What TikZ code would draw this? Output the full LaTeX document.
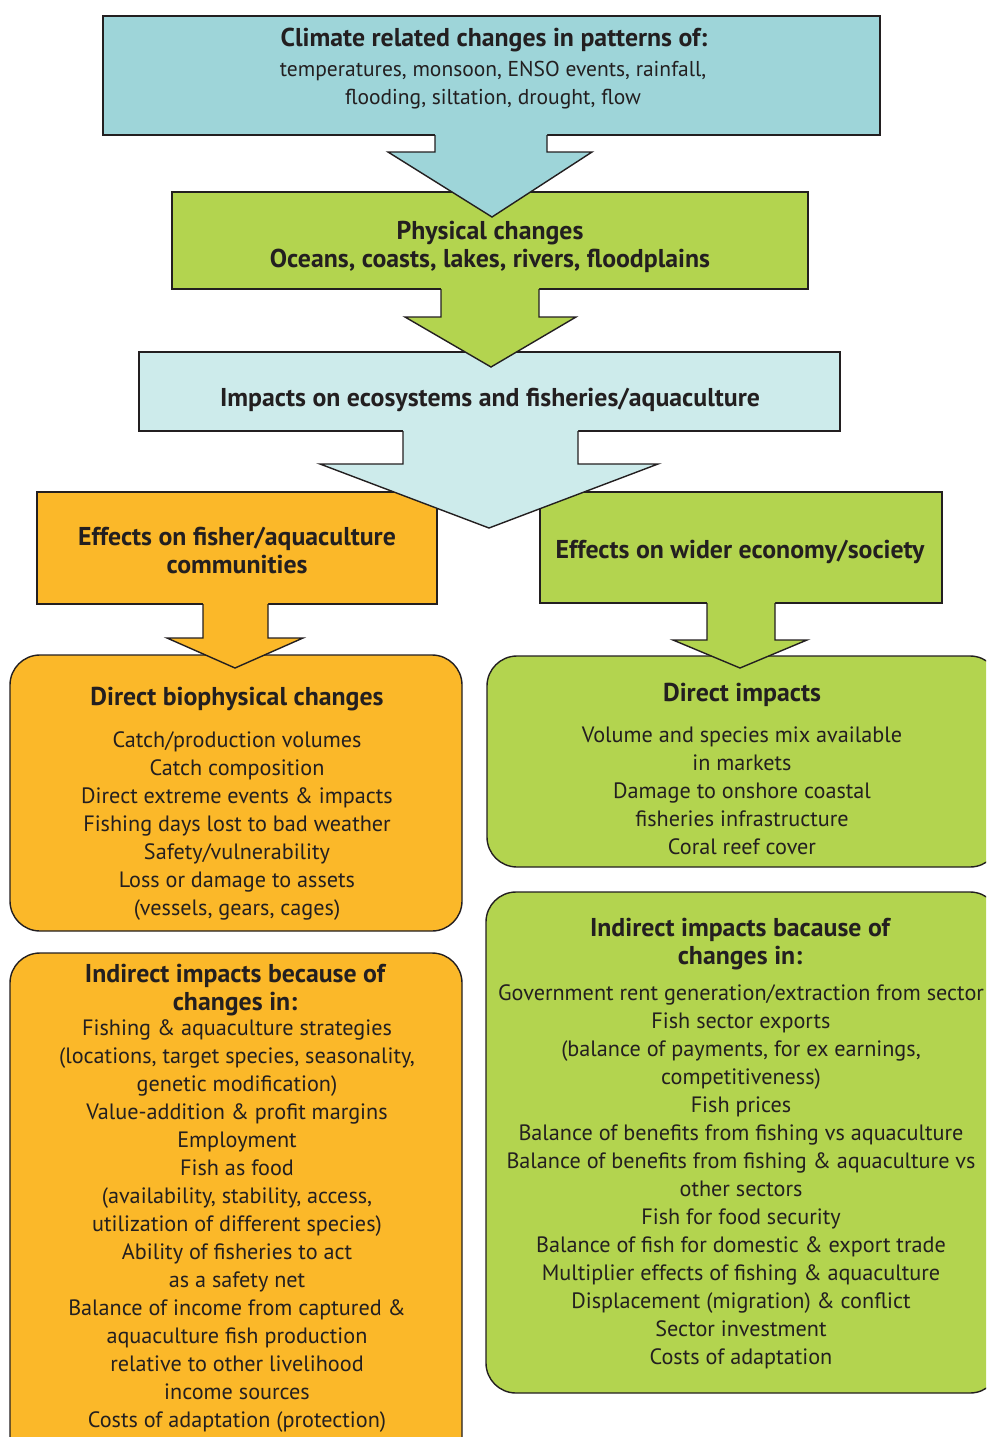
\documentclass[tikz,border=0pt]{standalone}
\usepackage{fontspec}
\setmainfont{PT Sans}
\definecolor{cteal}{HTML}{9ED5D9}
\definecolor{cgreen}{HTML}{B3D44F}
\definecolor{ccyan}{HTML}{CDEBEB}
\definecolor{corange}{HTML}{FBB829}
\definecolor{ctext}{HTML}{231F20}
\tikzset{
  box/.style={draw=ctext, line width=1.4pt},
  rbox/.style={draw=ctext, line width=1.4pt, rounded corners=30pt},
  arrowedge/.style={draw=ctext, line width=1.4pt, line join=miter},
  ttl/.style={inner sep=0pt, align=center, text=ctext, font=\fontsize{25.8}{28}\selectfont\bfseries},
  txt/.style={inner sep=0pt, align=center, text=ctext, font=\fontsize{22.2}{28}\selectfont},
}
\begin{document}
\begin{tikzpicture}[x=1pt,y=-1pt]
\useasboundingbox (0,0) rectangle (986,1437);
\clip (0,0) rectangle (986,1437);
% boxes
\draw[box, fill=cteal] (103,16) rectangle (880,135);
\draw[box, fill=cgreen] (172,192) rectangle (808,289);
\draw[box, fill=ccyan] (139,352) rectangle (840,431);
\draw[box, fill=corange] (37,492) rectangle (437,604);
\draw[box, fill=cgreen] (540,492) rectangle (942,603);
\draw[rbox, fill=corange] (10,655) rectangle (462,931);
\draw[rbox, fill=cgreen] (487,656) rectangle (1000,867);
\draw[rbox, fill=corange] (10,953) rectangle (462,1470);
\draw[rbox, fill=cgreen] (486,892) rectangle (1000,1393);
% arrows
\fill[cteal] (435,133) -- (435,152) -- (388,152) -- (492,217) -- (592,152) -- (547,152) -- (547,133) -- cycle;
\draw[arrowedge] (435,135) -- (435,152) -- (388,152) -- (492,217) -- (592,152) -- (547,152) -- (547,135);
\fill[cgreen] (441,287) -- (441,317) -- (405,317) -- (491,367) -- (576,317) -- (539,317) -- (539,287) -- cycle;
\draw[arrowedge] (441,289) -- (441,317) -- (405,317) -- (491,367) -- (576,317) -- (539,317) -- (539,289);
\fill[ccyan] (403,429) -- (403,464) -- (320,464) -- (489,528) -- (658,464) -- (578,464) -- (578,429) -- cycle;
\draw[arrowedge] (403,431) -- (403,464) -- (320,464) -- (489,528) -- (658,464) -- (578,464) -- (578,431);
\fill[corange] (203,602) -- (203,638) -- (167,638) -- (235,668) -- (303,638) -- (268,638) -- (268,602) -- cycle;
\draw[arrowedge] (203,604) -- (203,638) -- (167,638) -- (235,668) -- (303,638) -- (268,638) -- (268,604);
\fill[cgreen] (707,601) -- (707,640) -- (673,640) -- (740,668) -- (807,640) -- (775,640) -- (775,601) -- cycle;
\draw[arrowedge] (707,603) -- (707,640) -- (673,640) -- (740,668) -- (807,640) -- (775,640) -- (775,603);
% texts
\node[ttl] (t1) at (494,40) {Climate related changes in patterns of:};
\node[txt, font=\fontsize{21.5}{28}\selectfont] (b1) at (493,85) {temperatures, monsoon, ENSO events, rainfall,\\flooding, siltation, drought, flow};
\node[ttl] (t2) at (490,246.5) {Physical changes\\Oceans, coasts, lakes, rivers, floodplains};
\node[ttl] (t3) at (490,400) {Impacts on ecosystems and fisheries/aquaculture};
\node[ttl] (t4) at (237,550) {Effects on fisher/aquaculture\\communities};
\node[ttl] (t5) at (740,552) {Effects on wider economy/society};
\node[ttl] (t6) at (237,699) {Direct biophysical changes};
\node[txt] (b6) at (237,826) {Catch/production volumes\\Catch composition\\Direct extreme events \& impacts\\Fishing days lost to bad weather\\Safety/vulnerability\\Loss or damage to assets\\(vessels, gears, cages)};
\node[ttl] (t7) at (742,695) {Direct impacts};
\node[txt] (b7) at (742,791) {Volume and species mix available\\in markets\\Damage to onshore coastal\\fisheries infrastructure\\Coral reef cover};
\node[ttl] (t8) at (235,990) {Indirect impacts because of\\changes in:};
\node[txt] (b8) at (237,1226) {Fishing \& aquaculture strategies\\(locations, target species, seasonality,\\genetic modification)\\Value-addition \& profit margins\\Employment\\Fish as food\\(availability, stability, access,\\utilization of different species)\\Ability of fisheries to act\\as a safety net\\Balance of income from captured \&\\aquaculture fish production\\relative to other livelihood\\income sources\\Costs of adaptation (protection)};
\node[ttl] (t9) at (740,944) {Indirect impacts bacause of\\changes in:};
\node[txt] (b9) at (741,1177) {Government rent generation/extraction from sector\\Fish sector exports\\(balance of payments, for ex earnings,\\competitiveness)\\Fish prices\\Balance of benefits from fishing vs aquaculture\\Balance of benefits from fishing \& aquaculture vs\\other sectors\\Fish for food security\\Balance of fish for domestic \& export trade\\Multiplier effects of fishing \& aquaculture\\Displacement (migration) \& conflict\\Sector investment\\Costs of adaptation};
\end{tikzpicture}
\end{document}
